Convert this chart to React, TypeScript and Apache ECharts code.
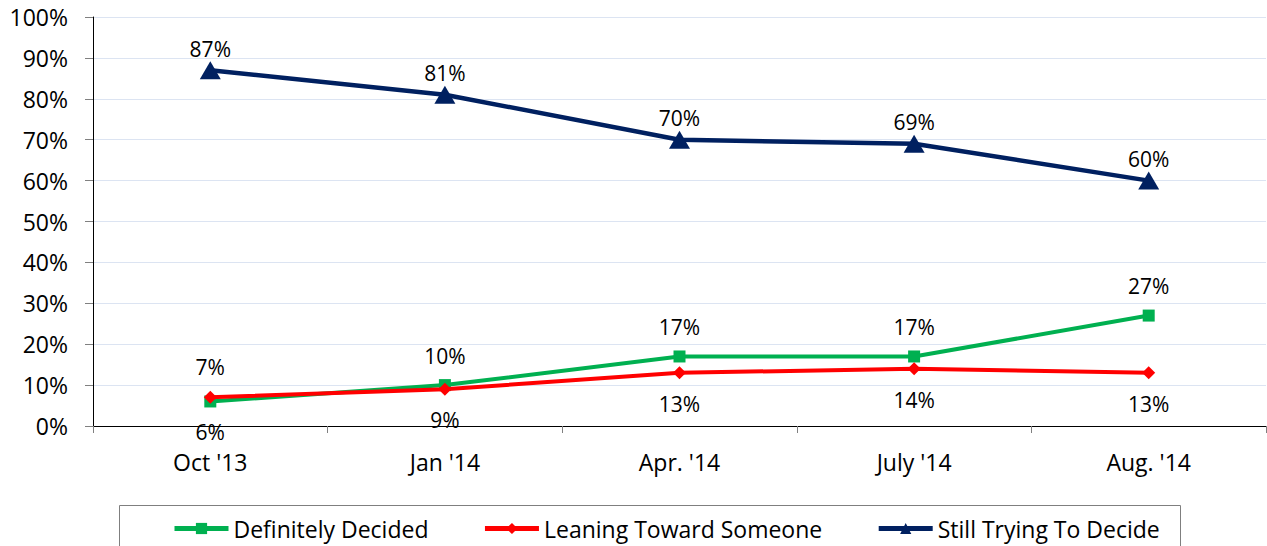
import React, { useEffect, useRef } from "react";
import * as echarts from "echarts";

const categories = ["Oct '13", "Jan '14", "Apr. '14", "July '14", "Aug. '14"];
const definitelyDecided = [6, 10, 17, 17, 27];
const leaningToward = [7, 9, 13, 14, 13];
const stillTrying = [87, 81, 70, 69, 60];
const definitelyLabelPos = ["bottom", "top", "top", "top", "top"];
const leaningLabelPos = ["top", "bottom", "bottom", "bottom", "bottom"];

const FONT = "'Open Sans', sans-serif";

export default function App() {
  const ref = useRef<HTMLDivElement>(null);
  useEffect(() => {
    if (!ref.current) return;
    const chart = echarts.init(ref.current, undefined, { renderer: "svg" });
    const labelBase = {
      show: true,
      color: "#000",
      fontSize: 21,
      fontFamily: FONT,
      formatter: "{c}%",
    };
    const itemLabel = (pos: string) => ({
      position: pos,
      distance: pos === "top" ? 13 : 14,
    });
    chart.setOption({
      animation: false,
      textStyle: { fontFamily: FONT },
      grid: { left: 93, right: 1, top: 17, bottom: 120, containLabel: false },
      xAxis: {
        type: "category",
        data: categories,
        boundaryGap: true,
        axisLine: { lineStyle: { color: "#000", width: 1 } },
        axisTick: { show: true, length: 7, lineStyle: { color: "#808080" } },
        axisLabel: { color: "#000", fontSize: 23, fontFamily: FONT, margin: 24 },
      },
      yAxis: {
        type: "value",
        min: 0,
        max: 100,
        interval: 10,
        axisLine: { show: true, lineStyle: { color: "#000", width: 1 } },
        axisTick: { show: true, length: 8, lineStyle: { color: "#808080" } },
        axisLabel: { color: "#000", fontSize: 23, fontFamily: FONT, margin: 25, formatter: "{value}%" },
        splitLine: { show: true, lineStyle: { color: "#dce4f2", width: 1 } },
      },
      legend: {
        left: 167,
        top: 512,
        itemWidth: 54,
        itemHeight: 14,
        itemGap: 54,
        lineStyle: { width: 5 },
        textStyle: { color: "#000", fontSize: 23, fontFamily: FONT },
        data: ["Definitely Decided", "Leaning Toward Someone", "Still Trying To Decide"],
      },
      graphic: [
        {
          type: "rect",
          shape: { x: 119.5, y: 505.5, width: 1061, height: 60 },
          style: { fill: "none", stroke: "#7f7f7f", lineWidth: 1 },
          silent: true,
        },
      ],
      series: [
        {
          name: "Definitely Decided",
          type: "line",
          data: definitelyDecided.map((v, i) => ({
            value: v,
            label: itemLabel(definitelyLabelPos[i]),
          })),
          symbol: "rect",
          symbolSize: 12,
          lineStyle: { color: "#00b050", width: 4 },
          itemStyle: { color: "#00b050" },
          label: { ...labelBase },
          z: 3,
        },
        {
          name: "Leaning Toward Someone",
          type: "line",
          data: leaningToward.map((v, i) => ({
            value: v,
            label: itemLabel(leaningLabelPos[i]),
          })),
          symbol: "diamond",
          symbolSize: 13,
          lineStyle: { color: "#ff0000", width: 4 },
          itemStyle: { color: "#ff0000" },
          label: { ...labelBase },
          z: 4,
        },
        {
          name: "Still Trying To Decide",
          type: "line",
          data: stillTrying,
          symbol: "triangle",
          symbolSize: [21, 18],
          lineStyle: { color: "#002060", width: 4.5 },
          itemStyle: { color: "#002060" },
          label: { ...labelBase, position: "top", distance: 2 },
          z: 5,
        },
      ],
    });
    return () => chart.dispose();
  }, []);
  return (
    <div
      ref={ref}
      style={{ position: "absolute", left: 0, top: 0, width: 1267, height: 546, background: "#fff" }}
    />
  );
}
